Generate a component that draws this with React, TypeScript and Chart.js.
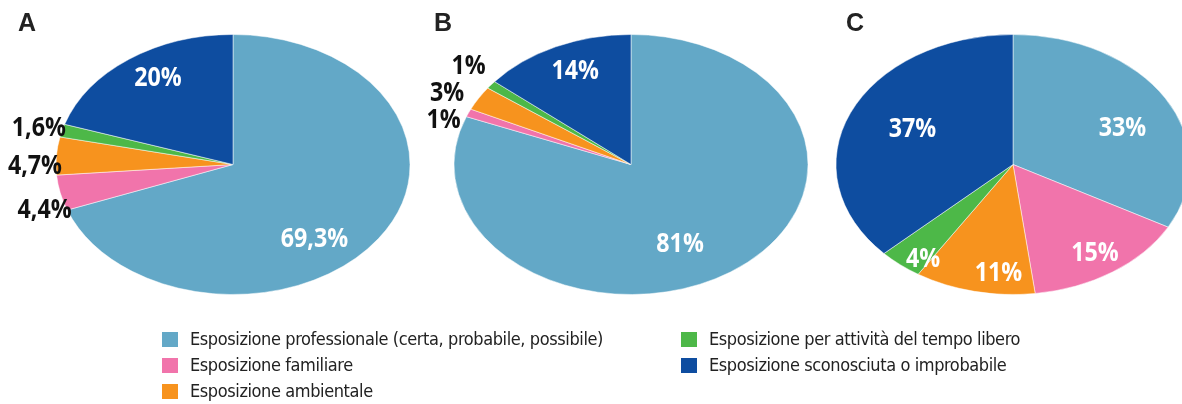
import React, { useEffect, useRef } from "react";
import { Chart, registerables } from "chart.js";

Chart.register(...registerables);

// ---------- data ----------
const categories = [
  "Esposizione professionale (certa, probabile, possibile)",
  "Esposizione familiare",
  "Esposizione ambientale",
  "Esposizione per attività del tempo libero",
  "Esposizione sconosciuta o improbabile",
];
const sliceColors = ["#63a8c7", "#f174ab", "#f7931e", "#4db848", "#0e4da0"];

const valuesA = [69.3, 4.4, 4.7, 1.6, 20];
const valuesB = [81, 1, 3, 1, 14];
const valuesC = [33, 15, 11, 4, 37];

const labelsA = ["69,3%", "4,4%", "4,7%", "1,6%", "20%"];
const labelsB = ["81%", "1%", "3%", "1%", "14%"];
const labelsC = ["33%", "15%", "11%", "4%", "37%"];

const panelTitles = ["A", "B", "C"];

// label placement: [angle shift from slice middle in degrees, distance as fraction of radius]
const placeA = [[16, 0.727], [-5, 1.117], [-3.8, 1.119], [0, 1.136], [4, 0.8]];
const placeB = [[9.4, 0.661], [-4.7, 1.118], [-2.1, 1.183], [2.3, 1.2], [2, 0.8]];
const placeC = [[5.3, 0.684], [-0.5, 0.814], [-6.9, 0.827], [-4.1, 0.875], [3.5, 0.637]];

// ---------- look ----------
const RADIUS = 130;
const STRETCH = 177 / 130;
const LABEL_FONT_SIZE = 27;
const LABEL_SQUEEZE = 0.86;
const LABEL_FONT = `bold ${LABEL_FONT_SIZE}px "Open Sans", "DejaVu Sans Condensed", sans-serif`;
const TEXT_FONT = `"DejaVu Sans Condensed", "Open Sans", sans-serif`;

const ellipsePlugin = {
  id: "ellipse",
  beforeDatasetsDraw(chart: any) {
    const arc = chart.getDatasetMeta(0).data[0];
    if (!arc) return;
    const { x, y } = arc;
    const ctx = chart.ctx;
    ctx.save();
    ctx.translate(x, y);
    ctx.scale(STRETCH, 1);
    ctx.translate(-x, -y);
  },
  afterDatasetsDraw(chart: any) {
    chart.ctx.restore();
  },
};

const sliceLabelPlugin = {
  id: "sliceLabels",
  afterDraw(chart: any, _args: any, opts: any) {
    const { texts, place } = opts;
    if (!texts) return;
    const ctx = chart.ctx;
    const meta = chart.getDatasetMeta(0);
    meta.data.forEach((arc: any, i: number) => {
      const p = arc.getProps(["startAngle", "endAngle", "outerRadius", "x", "y"], true);
      const mid = (p.startAngle + p.endAngle) / 2 + (place[i][0] * Math.PI) / 180;
      const r = p.outerRadius * place[i][1];
      const px = p.x + Math.cos(mid) * r * STRETCH;
      const py = p.y + Math.sin(mid) * r;
      ctx.save();
      ctx.font = LABEL_FONT;
      ctx.textAlign = "center";
      ctx.textBaseline = "alphabetic";
      ctx.fillStyle = place[i][1] < 1 ? "#ffffff" : "#111111";
      ctx.translate(px, py + 0.357 * LABEL_FONT_SIZE);
      ctx.scale(LABEL_SQUEEZE, 1);
      ctx.fillText(texts[i], 0, 0);
      ctx.restore();
    });
  },
};

function Pie({ values, texts, place, left }: { values: number[]; texts: string[]; place: number[][]; left: number }) {
  const ref = useRef<HTMLCanvasElement | null>(null);
  useEffect(() => {
    if (!ref.current) return;
    const chart = new Chart(ref.current, {
      type: "pie",
      data: {
        labels: categories,
        datasets: [
          {
            data: values,
            backgroundColor: sliceColors,
            borderColor: "rgba(255,255,255,0.7)",
            borderWidth: 0.6,
          },
        ],
      },
      options: {
        animation: false,
        responsive: true,
        maintainAspectRatio: false,
        radius: RADIUS,
        events: [],
        plugins: {
          legend: { display: false },
          tooltip: { enabled: false },
          sliceLabels: { texts, place },
        } as any,
      },
      plugins: [ellipsePlugin, sliceLabelPlugin],
    });
    return () => chart.destroy();
  }, []);
  return (
    <div style={{ position: "absolute", left, top: 0, width: 460, height: 329 }}>
      <canvas ref={ref} />
    </div>
  );
}

const legendCol1 = [0, 1, 2];
const legendCol2 = [3, 4];

function LegendCol({ items, left }: { items: number[]; left: number }) {
  return (
    <div style={{ position: "absolute", left, top: 326 }}>
      {items.map((i) => (
        <div key={i} style={{ display: "flex", alignItems: "center", height: 26 }}>
          <div style={{ width: 16, height: 15, background: sliceColors[i], marginRight: 12 }} />
          <span
            style={{
              fontFamily: TEXT_FONT,
              fontSize: 18,
              letterSpacing: "-0.4px",
              color: "#222",
              lineHeight: "26px",
              whiteSpace: "nowrap",
            }}
          >
            {categories[i]}
          </span>
        </div>
      ))}
    </div>
  );
}

const titleLefts = [18, 434, 846];

export default function App() {
  return (
    <div
      style={{
        position: "absolute",
        left: 0,
        top: 0,
        width: 1182,
        height: 404,
        overflow: "hidden",
        background: "#ffffff",
      }}
    >
      <Pie values={valuesA} texts={labelsA} place={placeA} left={3} />
      <Pie values={valuesB} texts={labelsB} place={placeB} left={401} />
      <Pie values={valuesC} texts={labelsC} place={placeC} left={783} />
      {panelTitles.map((t, i) => (
        <div
          key={t}
          style={{
            position: "absolute",
            left: titleLefts[i],
            top: 10,
            fontFamily: '"Liberation Sans", "Open Sans", sans-serif',
            fontWeight: "bold",
            fontSize: 25,
            lineHeight: 1,
            color: "#222",
          }}
        >
          {t}
        </div>
      ))}
      <LegendCol items={legendCol1} left={162} />
      <LegendCol items={legendCol2} left={681} />
    </div>
  );
}
